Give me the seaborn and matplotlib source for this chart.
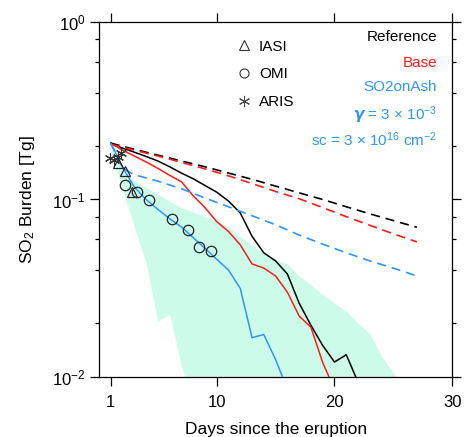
import pandas as pd
import matplotlib
matplotlib.use("Agg")
from matplotlib import pyplot as plt
from matplotlib.lines import Line2D
from matplotlib.ticker import LogLocator, FixedLocator, NullFormatter
import seaborn as sns

sns.set_theme(style="ticks")
plt.rcParams['font.family'] = ['Liberation Sans', 'DejaVu Sans']
plt.rcParams['mathtext.fontset'] = 'custom'
plt.rcParams['mathtext.rm'] = 'Liberation Sans'
plt.rcParams['mathtext.it'] = 'Liberation Sans:italic'
plt.rcParams['mathtext.bf'] = 'Liberation Sans:bold:italic'
plt.rcParams['mathtext.default'] = 'regular'
for k in ['text.color', 'axes.labelcolor', 'xtick.color', 'ytick.color', 'axes.edgecolor']:
    plt.rcParams[k] = 'black'

# model runs (solid = with removal, dashed = no removal)
ref_days = list(range(1, 23))
ref_burden = [0.208, 0.195, 0.185, 0.175, 0.165, 0.153, 0.141, 0.131, 0.120, 0.110, 0.098,
              0.084, 0.062, 0.050, 0.045, 0.038, 0.026, 0.0195, 0.015, 0.0121, 0.0133, 0.0093]
base_days = list(range(1, 21))
base_burden = [0.208, 0.190, 0.176, 0.163, 0.150, 0.137, 0.126, 0.105, 0.090, 0.075,
               0.066, 0.0555, 0.0433, 0.041, 0.037, 0.030, 0.022, 0.019, 0.012, 0.0085]
ash_days = list(range(1, 17))
ash_burden = [0.210, 0.152, 0.118, 0.100, 0.088, 0.078, 0.070, 0.061, 0.053, 0.046,
              0.040, 0.0315, 0.0166, 0.0173, 0.0125, 0.0085]

dash_days = [1, 3, 5, 7, 9, 11, 13, 15, 17, 19, 21, 23, 25, 27]
ref_nodep = [0.208, 0.192, 0.178, 0.165, 0.153, 0.141, 0.130, 0.119, 0.109, 0.100,
             0.091, 0.083, 0.076, 0.0697]
base_nodep = [0.205, 0.190, 0.176, 0.162, 0.149, 0.136, 0.123, 0.111, 0.101, 0.090,
              0.080, 0.0715, 0.064, 0.0576]
ash_nodep_days = [1, 2, 3, 5, 7, 9, 11, 13, 15, 17, 19, 21, 23, 25, 27]
ash_nodep = [0.208, 0.150, 0.138, 0.127, 0.115, 0.102, 0.091, 0.081, 0.072, 0.063,
             0.056, 0.050, 0.045, 0.041, 0.037]

# spread of the sensitivity runs
spread_days = list(range(1, 27))
spread_hi = [0.200, 0.145, 0.128, 0.117, 0.107, 0.098, 0.090, 0.085, 0.080, 0.076, 0.070,
             0.062, 0.055, 0.050, 0.046, 0.043, 0.037, 0.033, 0.029, 0.026, 0.0234, 0.020,
             0.0175, 0.013, 0.0105, 0.0085]
spread_lo = [0.190, 0.115, 0.070, 0.044, 0.0205, 0.0225, 0.0115, 0.007, 0.006, 0.005, 0.005,
             0.005, 0.005, 0.005, 0.005, 0.005, 0.005, 0.005, 0.005, 0.005, 0.005, 0.005,
             0.005, 0.005, 0.005, 0.005]

# observations
iasi_days = [1.6, 2.2, 2.85]
iasi_burden = [0.161, 0.144, 0.110]
omi_days = [2.2, 3.2, 4.25, 6.2, 7.55, 8.5, 9.5]
omi_burden = [0.121, 0.110, 0.099, 0.078, 0.067, 0.054, 0.051]
aris_days = [0.95, 1.3, 1.6, 1.85]
aris_burden = [0.172, 0.166, 0.174, 0.184]

RED = '#ff1a1a'
BLUE = '#2f96f4'
SHADE = '#cdfbea'


def main():
    fig = plt.figure(figsize=(4.66, 4.37), dpi=100)
    ax = fig.add_axes([0.2122, 0.138, 0.7584, 0.811])

    ax.fill_between(spread_days, spread_lo, spread_hi, color=SHADE, lw=0, zorder=1)

    solid = [(ref_days, ref_burden, 'black'), (base_days, base_burden, RED),
             (ash_days, ash_burden, BLUE)]
    for d, b, c in solid:
        df = pd.DataFrame({'day': d, 'burden': b})
        sns.lineplot(data=df, x='day', y='burden', ax=ax, color=c, lw=1.1,
                     estimator=None, zorder=3)

    dashed = [(dash_days, ref_nodep, 'black'), (dash_days, base_nodep, RED),
              (ash_nodep_days, ash_nodep, BLUE)]
    for d, b, c in dashed:
        df = pd.DataFrame({'day': d, 'burden': b})
        sns.lineplot(data=df, x='day', y='burden', ax=ax, color=c, lw=1.2,
                     linestyle=(0, (5.5, 3.5)), estimator=None, zorder=3)

    ax.plot(omi_days, omi_burden, ls='none', marker='o', ms=7.5, mfc='none',
            mec='#222222', mew=0.9, zorder=4)
    ax.plot(iasi_days, iasi_burden, ls='none', marker='^', ms=7.5, mfc='none',
            mec='#222222', mew=0.9, zorder=4)
    ax.plot(aris_days, aris_burden, ls='none', marker=(6, 2, 0), ms=8,
            mec='#333333', mew=0.8, zorder=5)

    ax.set_yscale('log')
    ax.set_xlim(0, 30)
    ax.set_ylim(1e-2, 1)
    ax.xaxis.set_major_locator(FixedLocator([1, 10, 20, 30]))
    ax.xaxis.set_minor_locator(FixedLocator([]))
    ax.yaxis.set_minor_locator(LogLocator(base=10, subs=(2, 4, 6, 8)))
    ax.yaxis.set_minor_formatter(NullFormatter())

    ax.tick_params(which='both', direction='out', top=True, right=True,
                   color='black', width=0.9, labelsize=12)
    ax.tick_params(which='major', length=6.5)
    ax.tick_params(which='minor', length=3)
    ax.tick_params(axis='x', pad=7)
    ax.tick_params(axis='y', pad=3)
    for s in ax.spines.values():
        s.set_linewidth(0.9)

    ax.set_xlabel('Days since the eruption', fontsize=12.5, labelpad=8)
    ax.set_ylabel('SO$_2$ Burden [Tg]', fontsize=12.5, labelpad=11)

    handles = [Line2D([], [], ls='none', marker='^', ms=6.5, mfc='none', mec='#333333', mew=0.8),
               Line2D([], [], ls='none', marker='o', ms=6.5, mfc='none', mec='#333333', mew=0.8),
               Line2D([], [], ls='none', marker=(6, 2, 0), ms=8, mec='#444444', mew=0.7)]
    ax.legend(handles, ['IASI', 'OMI', 'ARIS'], loc='upper left',
              bbox_to_anchor=(0.345, 0.99), frameon=False, fontsize=11,
              handletextpad=0.4, labelspacing=0.9, handlelength=1.2)

    labels = [('Reference', 'black', 0.959), ('Base', RED, 0.886), ('SO2onAsh', BLUE, 0.818),
              (r'$\boldsymbol{\gamma}$ = 3 $\times$ 10$^{-3}$', BLUE, 0.739),
              (r'sc = 3 $\times$ 10$^{16}$ cm$^{-2}$', BLUE, 0.668)]
    for txt, c, y in labels:
        ax.text(0.957, y, txt, color=c, fontsize=11, ha='right', va='center',
                transform=ax.transAxes)

    fig.savefig('out.png', dpi=100)


if __name__ == '__main__':
    main()
